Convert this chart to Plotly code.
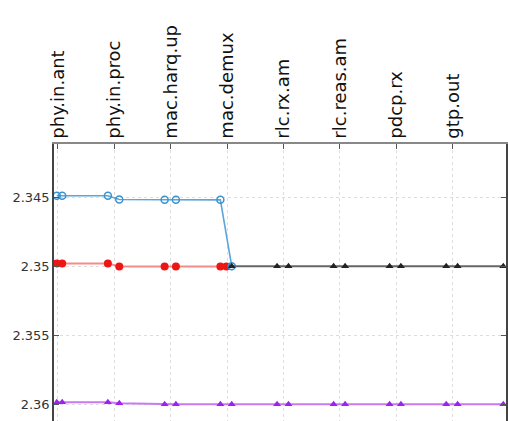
import plotly.graph_objects as go

stages = ["phy.in.ant", "phy.in.proc", "mac.harq.up", "mac.demux",
          "rlc.rx.am", "rlc.reas.am", "pdcp.rx", "gtp.out"]
stage_pos = [0, 1, 2, 3, 4, 5, 6, 7]

blue_x = [-0.02, 0.076, 0.886, 1.088, 1.892, 2.092, 2.880, 3.081]
blue_y = [2.3449, 2.3449, 2.3449, 2.34517, 2.3452, 2.3452, 2.3452, 2.35]

red_x = [-0.02, 0.076, 0.886, 1.088, 1.892, 2.092, 2.880, 2.987]
red_y = [2.3498, 2.3498, 2.3498, 2.35002, 2.35002, 2.35002, 2.35002, 2.35002]

black_x = [3.081, 3.885, 4.087, 4.887, 5.091, 5.879, 6.080, 6.883, 7.085, 7.895]
black_y = [2.35, 2.35, 2.35, 2.35, 2.35, 2.35, 2.35, 2.35, 2.35, 2.35]

purple_x = [-0.02, 0.076, 0.886, 1.088, 1.892, 2.092, 2.880, 3.081, 3.885,
            4.087, 4.887, 5.091, 5.879, 6.080, 6.883, 7.085, 7.895]
purple_y = [2.35986, 2.35986, 2.35986, 2.35993, 2.36, 2.36, 2.36, 2.36, 2.36,
            2.36, 2.36, 2.36, 2.36, 2.36, 2.36, 2.36, 2.36]

y_ticks = [2.345, 2.35, 2.355, 2.36]
y_tick_text = ["2.345", "2.35", "2.355", "2.36"]

fig = go.Figure()
fig.add_trace(go.Scatter(x=purple_x, y=purple_y, mode="lines+markers",
                         line=dict(color="#c77af2", width=2),
                         marker=dict(symbol="triangle-up", size=7, color="#a020f0")))
fig.add_trace(go.Scatter(x=red_x, y=red_y, mode="lines+markers",
                         line=dict(color="#f38b8b", width=2),
                         marker=dict(symbol="circle", size=8, color="#ee1515")))
fig.add_trace(go.Scatter(x=blue_x, y=blue_y, mode="lines+markers",
                         line=dict(color="#5aa6da", width=1.6),
                         marker=dict(symbol="circle-open", size=7, color="#3a93d0",
                                     line=dict(width=1.5))))
fig.add_trace(go.Scatter(x=black_x, y=black_y, mode="lines+markers",
                         line=dict(color="#666666", width=2),
                         marker=dict(symbol="triangle-up", size=7, color="#222222")))

fig.update_layout(
    width=508, height=421,
    margin=dict(l=54, r=2, t=144, b=0),
    plot_bgcolor="white", paper_bgcolor="white",
    showlegend=False,
    font=dict(family="DejaVu Sans", color="#222"),
)
fig.update_xaxes(
    side="top", range=[-0.069, 7.943],
    tickvals=stage_pos, ticktext=stages, tickangle=-90,
    tickfont=dict(size=18, color="#111", family="DejaVu Sans"),
    ticks="inside", ticklen=5, tickcolor="#555",
    showline=True, linecolor="#888", linewidth=1.5, mirror=False,
    showgrid=True, gridcolor="#dddddd", griddash="dot", gridwidth=1,
    zeroline=False, automargin=False,
)
fig.update_yaxes(
    range=[2.36121, 2.341156],
    tickvals=y_ticks, ticktext=y_tick_text,
    tickfont=dict(size=13, color="#333", family="DejaVu Sans"),
    ticks="inside", ticklen=5, tickcolor="#555",
    showline=True, linecolor="#444", linewidth=1.5, mirror="ticks",
    showgrid=True, gridcolor="#dddddd", griddash="dot", gridwidth=1,
    zeroline=False, automargin=False,
)

fig.write_html("out.html",
               config={"displayModeBar": False},
               post_script="document.body.style.margin='0';document.body.style.overflow='hidden';")
